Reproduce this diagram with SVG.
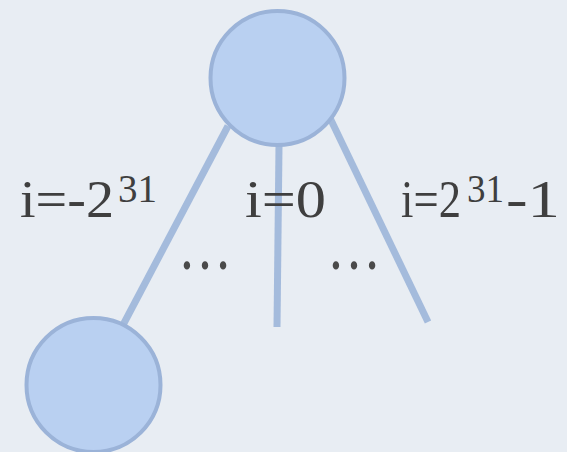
<svg xmlns="http://www.w3.org/2000/svg" width="567" height="452" viewBox="0 0 567 452">
<style>
.node{fill:#b9d0f1;stroke:#9bb3d8;stroke-width:4}
.edge{stroke:#a4bbdc;stroke-width:7;fill:none}
.lbl{font-family:"Liberation Serif",serif;font-size:52px;fill:#3f3f3f}
.sup{font-size:40px}
.dots{font-family:"Liberation Serif",serif;font-size:70px;fill:#4a4a4a}
</style>
<rect width="567" height="452" fill="#e8edf3"/>
<g id="connectors">
<line class="edge" x1="228" y1="126" x2="123" y2="325"/>
<line class="edge" x1="279" y1="146" x2="277" y2="327"/>
<line class="edge" x1="330" y1="118" x2="428" y2="322"/>
</g>
<g id="root"><circle class="node" cx="277.5" cy="78" r="67"/></g>
<g id="child"><circle class="node" cx="93.5" cy="385" r="67"/></g>
<g id="labels">
<text class="lbl" y="217"><tspan x="20" textLength="94" lengthAdjust="spacingAndGlyphs">i=-2</tspan><tspan class="sup" x="118" y="202" textLength="39" lengthAdjust="spacingAndGlyphs">31</tspan></text>
<text class="lbl" x="245" y="217" textLength="81" lengthAdjust="spacingAndGlyphs">i=0</text>
<text class="lbl" y="217"><tspan x="401" textLength="60" lengthAdjust="spacingAndGlyphs">i=2</tspan><tspan class="sup" x="467" y="202" textLength="37" lengthAdjust="spacingAndGlyphs">31</tspan><tspan x="506" y="217" textLength="54" lengthAdjust="spacingAndGlyphs">-1</tspan></text>
<text class="dots" x="178" y="269" textLength="54" lengthAdjust="spacingAndGlyphs">…</text>
<text class="dots" x="327" y="269" textLength="54" lengthAdjust="spacingAndGlyphs">…</text>
</g>
</svg>
